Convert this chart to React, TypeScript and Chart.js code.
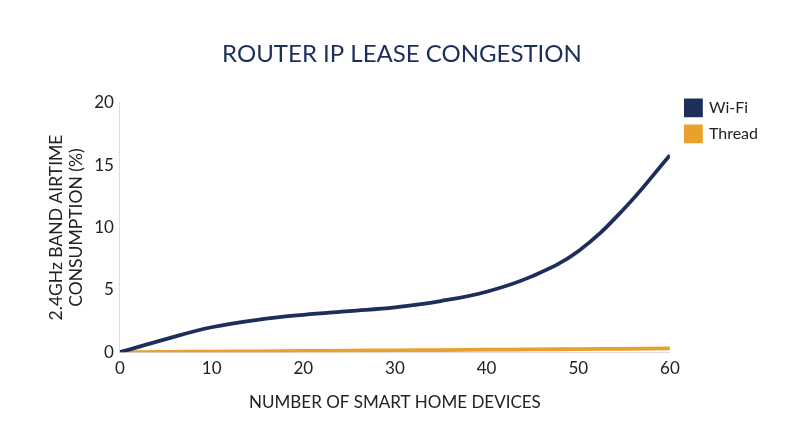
import React, { useEffect, useRef } from "react";
import { Chart, registerables } from "chart.js";

Chart.register(...registerables);

const deviceCounts = [0, 5, 10, 15, 20, 25, 30, 35, 40, 45, 50, 55, 60];
const wifiAirtime = [0, 1.05, 2.0, 2.6, 3.0, 3.3, 3.6, 4.1, 4.85, 6.1, 8.1, 11.5, 15.8];
const threadAirtime = [0, 0.02, 0.05, 0.07, 0.1, 0.12, 0.15, 0.17, 0.2, 0.22, 0.25, 0.27, 0.3];
const seriesNames = ["Wi-Fi", "Thread"];
const yTicks = [0, 5, 10, 15, 20];
const xTicks = [0, 10, 20, 30, 40, 50, 60];

const NAVY = "#1c2f5a";
const ORANGE = "#e9a12b";
const FONT = "Lato, 'Open Sans', sans-serif";

const legendShift = {
  id: "legendShift",
  afterLayout(chart: any) {
    const lg = chart.legend;
    if (lg) {
      lg.top -= 13;
      lg.bottom -= 13;
      lg.left += 6;
      lg.right += 6;
      if (lg.legendHitBoxes)
        lg.legendHitBoxes.forEach((b: any) => {
          b.top -= 13;
          b.left += 6;
        });
    }
  },
};

export default function App() {
  const ref = useRef<HTMLCanvasElement | null>(null);
  useEffect(() => {
    if (!ref.current) return;
    const chart = new Chart(ref.current, {
      type: "line",
      data: {
        datasets: [
          {
            label: seriesNames[0],
            data: deviceCounts.map((x, i) => ({ x, y: wifiAirtime[i] })),
            borderColor: NAVY,
            backgroundColor: NAVY,
            borderWidth: 3.8,
            pointRadius: 0,
            tension: 0.4,
          },
          {
            label: seriesNames[1],
            data: deviceCounts.map((x, i) => ({ x, y: threadAirtime[i] })),
            borderColor: ORANGE,
            backgroundColor: ORANGE,
            borderWidth: 3.8,
            pointRadius: 0,
            tension: 0.4,
          },
        ],
      },
      plugins: [legendShift],
      options: {
        responsive: false,
        animation: false,
        layout: { padding: { left: 42, right: 38, bottom: 30 } },
        plugins: {
          title: {
            display: true,
            text: "ROUTER IP LEASE CONGESTION",
            color: NAVY,
            font: { family: FONT, size: 24, weight: "normal" },
            padding: { top: 40, bottom: 34 },
          },
          legend: {
            position: "right",
            align: "start",
            fullSize: false,
            labels: {
              boxWidth: 15,
              boxHeight: 15,
              padding: 10,
              color: "#222",
              font: { family: FONT, size: 16 },
            },
          },
          tooltip: { enabled: false },
        },
        scales: {
          x: {
            type: "linear",
            min: 0,
            max: 60,
            afterBuildTicks: (axis: any) => {
              axis.ticks = xTicks.map((v) => ({ value: v }));
            },
            grid: { display: false, drawTicks: false },
            border: { display: true, color: "#dddddd", width: 1 },
            ticks: { color: "#222", font: { family: FONT, size: 17 }, padding: 6 },
            title: {
              display: true,
              text: "NUMBER OF SMART HOME DEVICES",
              color: "#222",
              font: { family: FONT, size: 17 },
              padding: { top: 8 },
            },
          },
          y: {
            type: "linear",
            min: 0,
            max: 20,
            afterBuildTicks: (axis: any) => {
              axis.ticks = yTicks.map((v) => ({ value: v }));
            },
            grid: { display: false, drawTicks: false },
            border: { display: true, color: "#dddddd", width: 1 },
            ticks: { color: "#222", font: { family: FONT, size: 17 }, padding: 6 },
            title: {
              display: true,
              text: ["2.4GHz BAND AIRTIME", "CONSUMPTION (%)"],
              color: "#222",
              font: { family: FONT, size: 17.5, lineHeight: 1.15 },
              padding: { bottom: 2 },
            },
          },
        },
      },
    } as any);
    return () => chart.destroy();
  }, []);
  return (
    <div style={{ position: "fixed", left: 0, top: 0, width: 800, height: 447, background: "#fff" }}>
      <canvas ref={ref} width={800} height={447} style={{ width: 800, height: 447 }} />
    </div>
  );
}
